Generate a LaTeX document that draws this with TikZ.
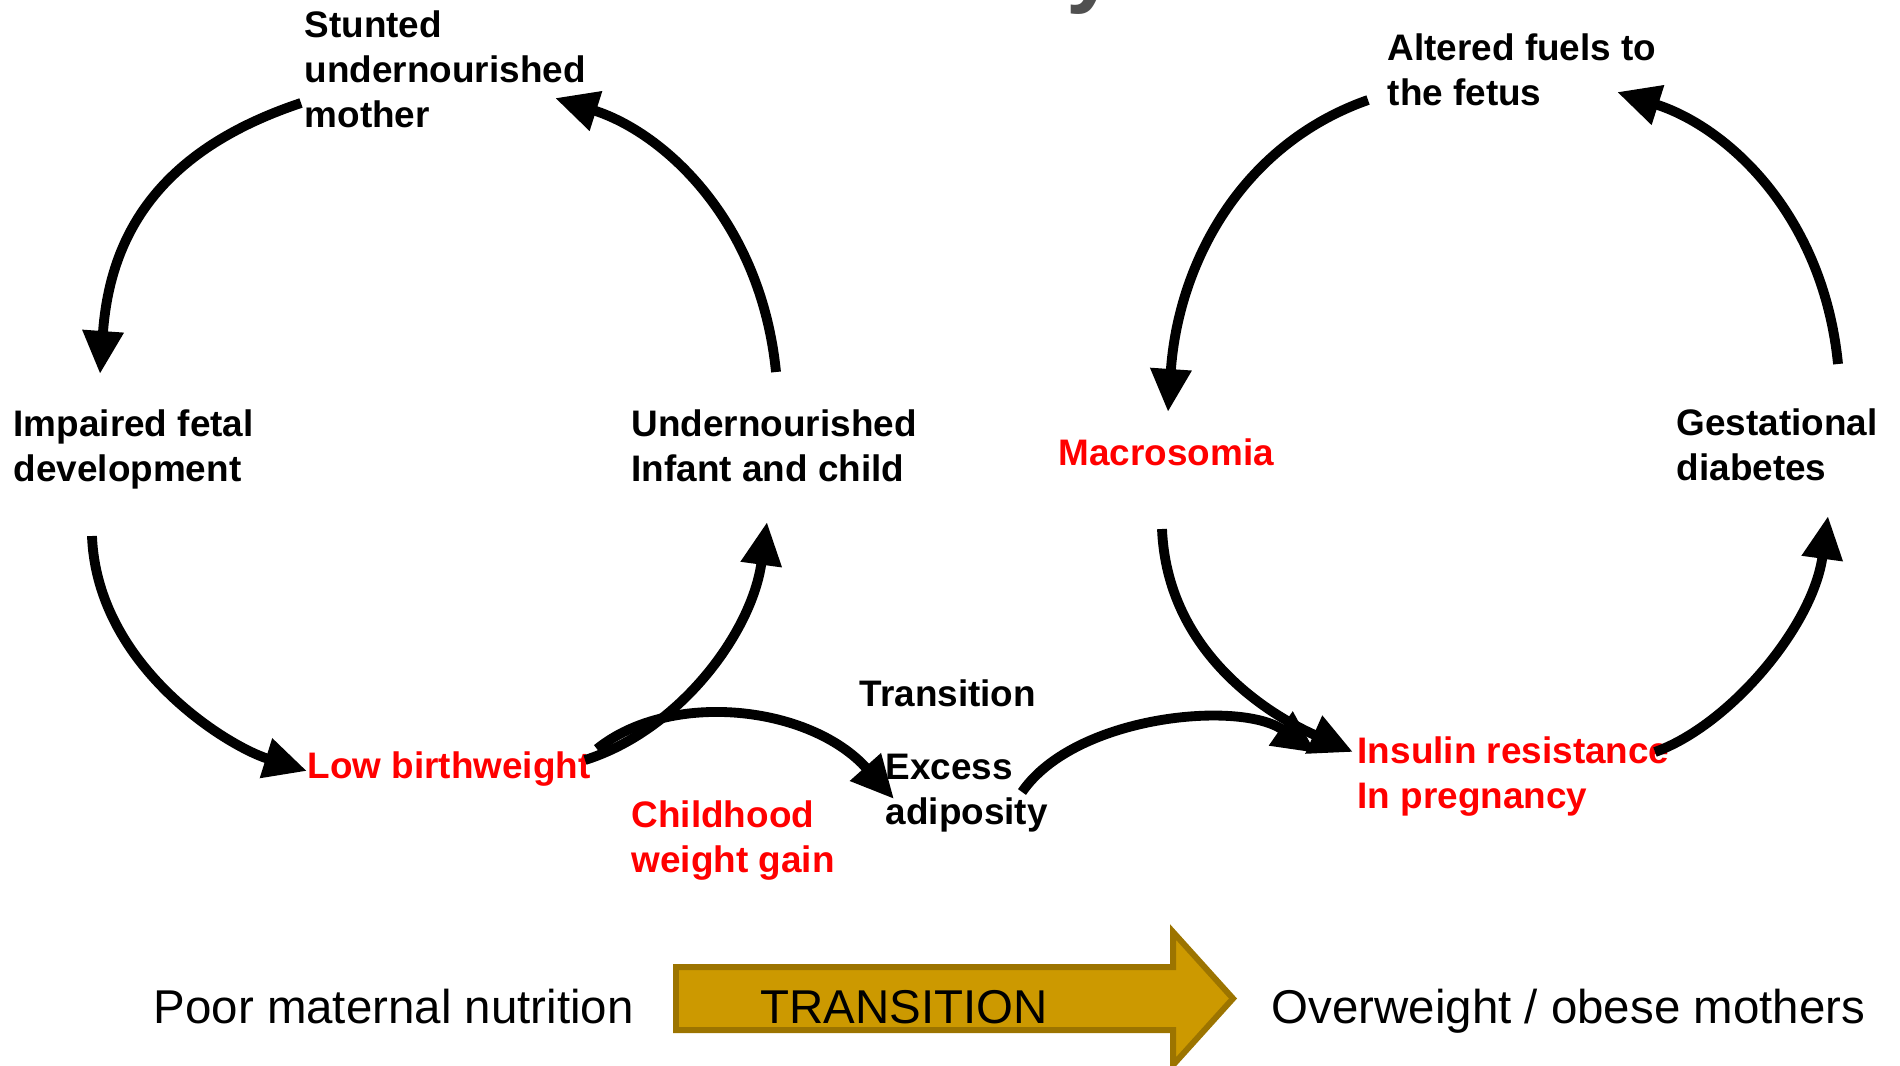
\documentclass[tikz,border=0pt]{standalone}
\usepackage{fontspec}
\setmainfont{Liberation Sans}
\usetikzlibrary{arrows.meta}
\definecolor{gold}{HTML}{CC9900}
\definecolor{goldedge}{HTML}{9C7400}
\definecolor{titlegrey}{HTML}{505050}

\begin{document}
\begin{tikzpicture}[y=-1cm,
    lbl/.style={font=\bfseries\fontsize{10.5}{12.8}\selectfont, inner sep=0pt, align=left},
    redlbl/.style={lbl, text=red},
    big/.style={font=\fontsize{13.5}{16}\selectfont, inner sep=0pt},
    cyc/.style={line width=2.8pt, -{Triangle[length=4.3mm,width=3.9mm]}}]
    \useasboundingbox (0,0) rectangle (19,10.65);

    % Bit of the title, cut off by the top edge
    \node[anchor=base west, inner sep=0pt, text=titlegrey, font=\bfseries\fontsize{26}{30}\selectfont] (title) at (10.66,-0.05) {y};

    % Left cycle: poor maternal nutrition
    \node[lbl, anchor=north west] (mother) at (3.04,0.10) {Stunted\\undernourished\\mother};
    \node[lbl, anchor=north west] (fetal) at (0.13,4.09) {Impaired fetal\\development};
    \node[lbl, anchor=north west] (infant) at (6.31,4.09) {Undernourished\\Infant and child};
    \node[redlbl, anchor=base west] (lbw) at (3.07,7.78) {Low birthweight};
    \node[redlbl, anchor=north west] (childhood) at (6.31,8.00) {Childhood\\weight gain};

    % Middle
    \node[lbl, anchor=base west] (transition) at (8.59,7.06) {Transition};
    \node[lbl, anchor=north west] (excess) at (8.85,7.53) {Excess\\adiposity};

    % Right cycle: overweight / obese mothers
    \node[lbl, anchor=north west] (fuels) at (13.87,0.33) {Altered fuels to\\the fetus};
    \node[redlbl, anchor=base west] (macro) at (10.58,4.65) {Macrosomia};
    \node[lbl, anchor=north west] (gest) at (16.76,4.08) {Gestational\\diabetes};
    \node[redlbl, anchor=north west] (insulin) at (13.57,7.36) {Insulin resistance\\In pregnancy};

    % Arrow ends
    \coordinate (mother-out) at (3.01,1.03);
    \coordinate (fetal-in) at (1.00,3.74);
    \coordinate (fetal-out) at (0.92,5.36);
    \coordinate (lbw-in) at (3.07,7.71);
    \coordinate (lbw-up) at (5.85,7.60);
    \coordinate (lbw-right) at (5.97,7.49);
    \coordinate (infant-in) at (7.67,5.22);
    \coordinate (infant-out) at (7.76,3.72);
    \coordinate (mother-in) at (5.55,0.98);
    \coordinate (excess-in) at (8.94,7.99);
    \coordinate (excess-out) at (10.22,7.92);
    \coordinate (insulin-in1) at (13.16,7.53);
    \coordinate (insulin-in2) at (13.53,7.52);
    \coordinate (insulin-out) at (16.55,7.52);
    \coordinate (gest-in) at (18.28,5.16);
    \coordinate (gest-out) at (18.38,3.64);
    \coordinate (fuels-in) at (16.17,0.92);
    \coordinate (fuels-out) at (13.68,1.00);
    \coordinate (macro-in) at (11.68,4.12);
    \coordinate (macro-out) at (11.62,5.29);

    % Left cycle arrows
    \draw[cyc] (mother-out) .. controls +(-1.41,0.47) and +(0.10,-1.40) .. (fetal-in);
    \draw[cyc] (fetal-out) .. controls +(0.05,1.30) and +(-0.80,-0.25) .. (lbw-in);
    \draw[cyc] (lbw-up) .. controls +(0.95,-0.30) and +(-0.15,1.10) .. (infant-in);
    \draw[cyc] (infant-out) .. controls +(-0.15,-1.50) and +(1.10,0.35) .. (mother-in);

    % Transition arrows
    \draw[cyc] (lbw-right) .. controls +(0.73,-0.59) and +(-0.84,-0.94) .. (excess-in);
    \draw[cyc] (excess-out) .. controls +(0.53,-0.77) and +(-0.76,-0.53) .. (insulin-in1);

    % Right cycle arrows
    \draw[cyc] (macro-out) .. controls +(0.05,1.20) and +(-0.90,-0.40) .. (insulin-in2);
    \draw[cyc] (insulin-out) .. controls +(0.75,-0.27) and +(-0.15,1.10) .. (gest-in);
    \draw[cyc] (gest-out) .. controls +(-0.15,-1.50) and +(1.10,0.35) .. (fuels-in);
    \draw[cyc] (fuels-out) .. controls +(-1.28,0.45) and +(0.10,-1.47) .. (macro-in);

    % Bottom row with the big arrow
    \draw[line width=1.7pt, draw=goldedge, fill=gold]
        (6.76,9.67) -- (11.73,9.67) -- (11.73,9.32) -- (12.33,9.985)
        -- (11.73,10.65) -- (11.73,10.30) -- (6.76,10.30) -- cycle;
    \node[big, anchor=base west] (poor) at (1.53,10.23) {Poor maternal nutrition};
    \node[big, anchor=base west] (trans) at (7.60,10.23) {TRANSITION};
    \node[big, anchor=base west] (obese) at (12.71,10.23) {Overweight / obese mothers};
\end{tikzpicture}
\end{document}
